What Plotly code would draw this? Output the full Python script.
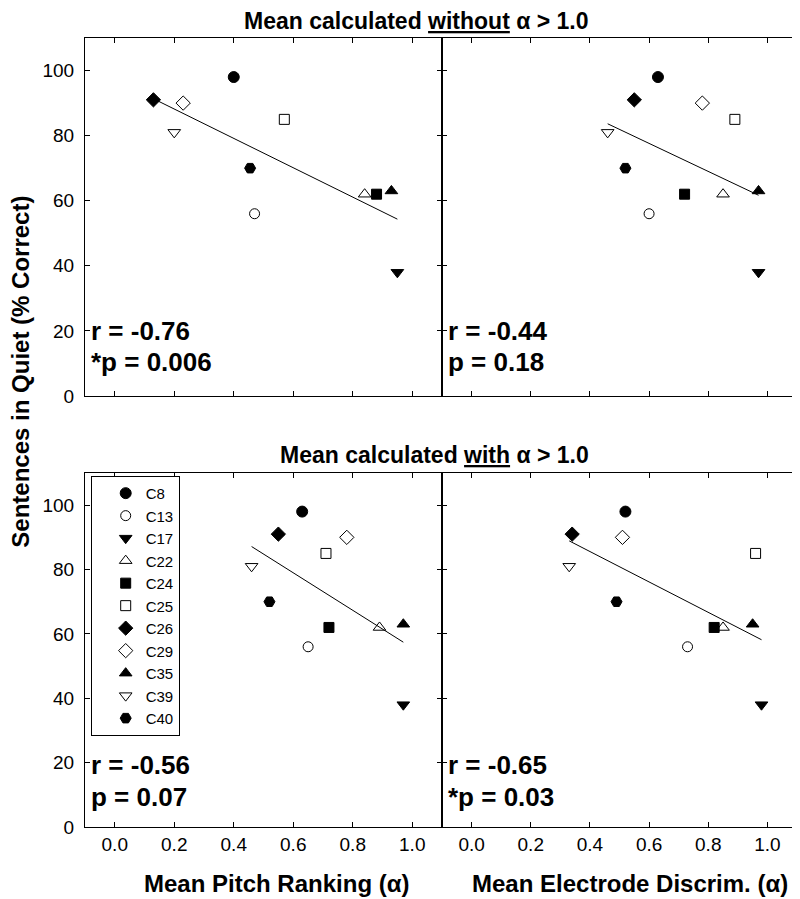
import numpy as np
import plotly.graph_objects as go

# subjects and scores
subjects = ["C8", "C13", "C17", "C22", "C24", "C25", "C26", "C29", "C35", "C39", "C40"]
sentences_quiet = [98, 56, 38, 62, 62, 85, 91, 90, 63, 81, 70]

pitch_without = [0.40, 0.47, 0.95, 0.84, 0.88, 0.57, 0.13, 0.23, 0.93, 0.20, 0.455]
electrode_without = [0.63, 0.60, 0.97, 0.85, 0.72, 0.89, 0.55, 0.78, 0.97, 0.46, 0.52]
pitch_with = [0.63, 0.65, 0.97, 0.89, 0.72, 0.71, 0.55, 0.78, 0.97, 0.46, 0.52]
electrode_with = [0.52, 0.73, 0.98, 0.85, 0.82, 0.96, 0.34, 0.51, 0.95, 0.33, 0.49]

r_text = ["r = -0.76", "r = -0.44", "r = -0.56", "r = -0.65"]
p_text = ["*p = 0.006", "p = 0.18", "p = 0.07", "*p = 0.03"]

x_ticks = [0.0, 0.2, 0.4, 0.6, 0.8, 1.0]
y_ticks = [0, 20, 40, 60, 80, 100]

# symbol, filled?, size
styles = {
    "C8": ("circle", True, 11), "C13": ("circle", False, 10),
    "C17": ("triangle-down", True, 11), "C22": ("triangle-up", False, 11),
    "C24": ("square", True, 10), "C25": ("square", False, 10),
    "C26": ("diamond", True, 11), "C29": ("diamond", False, 11),
    "C35": ("triangle-up", True, 11), "C39": ("triangle-down", False, 11),
    "C40": ("hexagon2", True, 11),
}

FONT = "Liberation Sans, Arial, sans-serif"

panels = [
    (pitch_without, "x", "y"),
    (electrode_without, "x2", "y2"),
    (pitch_with, "x3", "y3"),
    (electrode_with, "x4", "y4"),
]
# vertical spot (axis-domain fraction) of the r / p lines in top and bottom rows
r_pos = [0.182, 0.182, 0.176, 0.176]
p_pos = [0.094, 0.094, 0.085, 0.085]

fig = go.Figure()

for i, (xs, xa, ya) in enumerate(panels):
    for k, name in enumerate(subjects):
        sym, filled, size = styles[name]
        fig.add_trace(go.Scatter(
            x=[xs[k]], y=[sentences_quiet[k]], mode="markers", name=name,
            xaxis=xa, yaxis=ya, legendgroup=name, showlegend=(i == 2),
            marker=dict(symbol=sym, size=size, color="black" if filled else "white",
                        line=dict(color="black", width=1)),
        ))
    # least squares fit
    xv = np.array(xs)
    yv = np.array(sentences_quiet, dtype=float)
    slope, intercept = np.polyfit(xv, yv, 1)
    xl = np.array([xv.min(), xv.max()])
    fig.add_trace(go.Scatter(x=xl, y=slope * xl + intercept, mode="lines",
                             line=dict(color="black", width=1), xaxis=xa, yaxis=ya,
                             showlegend=False, hoverinfo="skip"))
    for txt, yp in [(r_text[i], r_pos[i]), (p_text[i], p_pos[i])]:
        fig.add_annotation(text="<b>" + txt + "</b>", xref=xa + " domain", yref=ya + " domain",
                           x=0.01, y=yp, xanchor="left", yanchor="middle", align="left",
                           showarrow=False, font=dict(family=FONT, size=26, color="black"))

axis_common = dict(showline=True, linecolor="black", linewidth=1, mirror="ticks",
                   ticks="inside", ticklen=5, tickcolor="black", showgrid=False,
                   zeroline=False, tickfont=dict(family=FONT, size=19, color="black"))

left_w = 357 / 712
top_dom = [0.5463, 1.0]
bot_dom = [0.0, 0.4487]

for n, (xd, yd, show_x, show_y) in enumerate([
        ([0, left_w], top_dom, False, True),
        ([left_w, 1], top_dom, False, False),
        ([0, left_w], bot_dom, True, True),
        ([left_w, 1], bot_dom, True, False)], start=1):
    sfx = "" if n == 1 else str(n)
    fig.layout["xaxis" + sfx] = dict(axis_common, domain=xd, range=[-0.1, 1.1],
                                     tickvals=x_ticks, tickformat=".1f",
                                     showticklabels=show_x, ticklabelstandoff=0,
                                     anchor="y" + sfx)
    fig.layout["yaxis" + sfx] = dict(axis_common, domain=yd, range=[0, 110],
                                     tickvals=y_ticks, showticklabels=show_y,
                                     ticklabelstandoff=6, anchor="x" + sfx)

title_font = dict(family=FONT, size=23, color="black")
axis_title_font = dict(family=FONT, size=24, color="black")
fig.add_annotation(text="<b>Mean calculated <u>without</u> α > 1.0</b>", xref="paper", yref="paper",
                   x=(408 - 77) / 712, y=1.022, xanchor="center", yanchor="middle", showarrow=False,
                   font=title_font)
fig.add_annotation(text="<b>Mean calculated <u>with</u> α > 1.0</b>", xref="paper", yref="paper",
                   x=(426 - 77) / 712, y=0.4715, xanchor="center", yanchor="middle", showarrow=False,
                   font=title_font)
fig.add_annotation(text="<b>Mean Pitch Ranking (α)</b>", xref="paper", yref="paper",
                   x=(268 - 77) / 712, y=-0.072, xanchor="center", yanchor="middle", showarrow=False,
                   font=axis_title_font)
fig.add_annotation(text="<b>Mean Electrode Discrim. (α)</b>", xref="paper", yref="paper",
                   x=(622 - 77) / 712, y=-0.072, xanchor="center", yanchor="middle", showarrow=False,
                   font=axis_title_font)
fig.add_annotation(text="<b>Sentences in Quiet (% Correct)</b>", xref="paper", yref="paper",
                   x=-0.09, y=0.577, xanchor="center", yanchor="middle", textangle=-90,
                   showarrow=False, font=dict(family=FONT, size=24, color="black"))

fig.update_layout(
    width=800, height=899,
    margin=dict(l=77, r=11, t=30, b=80),
    paper_bgcolor="white", plot_bgcolor="white",
    font=dict(family=FONT, color="black"),
    legend=dict(x=0.008, y=0.445, xanchor="left", yanchor="top",
                bordercolor="black", borderwidth=1, bgcolor="white",
                font=dict(family=FONT, size=15, color="black"),
                indentation=14, tracegroupgap=0),
)

fig.write_html("out.html")
